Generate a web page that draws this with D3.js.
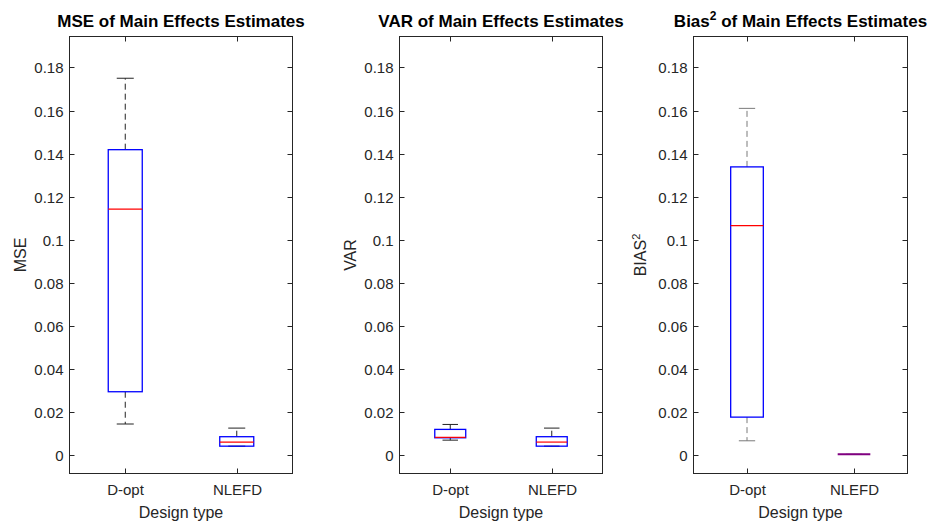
<!DOCTYPE html>
<html>
<head>
<meta charset="utf-8">
<script src="https://cdn.jsdelivr.net/npm/d3@7"></script>
<style>
  body { margin: 0; background: #fff; }
  svg { display: block; font-family: "Liberation Sans", Arial, sans-serif; }
</style>
</head>
<body>
<svg id="chart" width="931" height="525"></svg>
<script>
// design types on the x axis
var categories = ["D-opt", "NLEFD"];
var yTicks = [0, 0.02, 0.04, 0.06, 0.08, 0.1, 0.12, 0.14, 0.16, 0.18];

// box stats per design: [lower whisker, Q1, median, Q3, upper whisker]
var mseStats = [
  [0.0143, 0.0293, 0.1142, 0.1418, 0.1750],
  [0.0040, 0.0040, 0.0059, 0.0084, 0.0124]
];
var varStats = [
  [0.0068, 0.0079, 0.0081, 0.0118, 0.0141],
  [0.0040, 0.0040, 0.0059, 0.0084, 0.0124]
];
var biasStats = [
  [0.0065, 0.0175, 0.1065, 0.1338, 0.1610],
  [0.0002, 0.0002, 0.0002, 0.0002, 0.0002]
];

var panels = [
  {title: "MSE of Main Effects Estimates", ylab: "MSE", sup: false, stats: mseStats,
   left: 69.5, right: 292.5, labX: 20, whisker: "#222"},
  {title: "VAR of Main Effects Estimates", ylab: "VAR", sup: false, stats: varStats,
   left: 399.5, right: 602.5, labX: 350, whisker: "#222"},
  {title: "Bias", ylab: "BIAS", sup: true, stats: biasStats,
   left: 693.5, right: 907.5, labX: 640, whisker: "#7a7a7a"}
];

var plotTop = 36.5, plotBottom = 473.5;
var svg = d3.select("#chart");

var y = d3.scaleLinear()
    .domain([-0.0087, 0.1944])
    .range([plotBottom, plotTop]);

panels.forEach(function(p) {
  var g = svg.append("g");

  var x = d3.scaleLinear()
      .domain([0.5, 2.5])
      .range([p.left, p.right]);
  var step = x(2) - x(1);
  var boxW = step * 0.305;

  // axes box
  g.append("rect")
      .attr("x", p.left).attr("y", plotTop)
      .attr("width", p.right - p.left).attr("height", plotBottom - plotTop)
      .attr("fill", "none").attr("stroke", "#262626").attr("stroke-width", 1);

  // y ticks both sides, inward
  var fmt = d3.format("~g");
  yTicks.forEach(function(t) {
    var yy = Math.round(y(t)) + 0.5;
    g.append("line").attr("x1", p.left).attr("x2", p.left + 5)
        .attr("y1", yy).attr("y2", yy).attr("stroke", "#262626");
    g.append("line").attr("x1", p.right).attr("x2", p.right - 5)
        .attr("y1", yy).attr("y2", yy).attr("stroke", "#262626");
    g.append("text")
        .attr("x", p.left - 6).attr("y", yy)
        .attr("dy", "0.35em")
        .attr("text-anchor", "end")
        .attr("font-size", 15)
        .attr("fill", "#262626")
        .text(fmt(+t.toFixed(2)));
  });

  // x ticks top and bottom
  categories.forEach(function(c, i) {
    var xx = Math.round(x(i + 1)) + 0.5;
    g.append("line").attr("x1", xx).attr("x2", xx)
        .attr("y1", plotBottom).attr("y2", plotBottom - 5).attr("stroke", "#262626");
    g.append("line").attr("x1", xx).attr("x2", xx)
        .attr("y1", plotTop).attr("y2", plotTop + 5).attr("stroke", "#262626");
    g.append("text")
        .attr("x", xx).attr("y", 495)
        .attr("text-anchor", "middle")
        .attr("font-size", 15)
        .attr("fill", "#262626")
        .text(c);
  });

  // boxes
  p.stats.forEach(function(s, i) {
    var cx = x(i + 1);
    var lo = s[0], q1 = s[1], med = s[2], q3 = s[3], hi = s[4];

    // whiskers
    g.append("line").attr("x1", cx).attr("x2", cx)
        .attr("y1", y(q3)).attr("y2", y(hi))
        .attr("stroke", p.whisker).attr("stroke-dasharray", "6,4");
    g.append("line").attr("x1", cx).attr("x2", cx)
        .attr("y1", y(q1)).attr("y2", y(lo))
        .attr("stroke", p.whisker).attr("stroke-dasharray", "6,4");
    // caps
    g.append("line").attr("x1", cx - boxW / 4).attr("x2", cx + boxW / 4)
        .attr("y1", y(hi)).attr("y2", y(hi)).attr("stroke", p.whisker);
    g.append("line").attr("x1", cx - boxW / 4).attr("x2", cx + boxW / 4)
        .attr("y1", y(lo)).attr("y2", y(lo)).attr("stroke", p.whisker);

    // box
    g.append("rect")
        .attr("x", cx - boxW / 2).attr("y", y(q3))
        .attr("width", boxW).attr("height", Math.max(0, y(q1) - y(q3)))
        .attr("fill", "none").attr("stroke", "#0000ff").attr("stroke-width", 1.3);

    // median
    var flat = (q3 - q1) < 0.001 && hi - lo < 0.001;
    g.append("line")
        .attr("x1", cx - boxW / 2).attr("x2", cx + boxW / 2)
        .attr("y1", y(med)).attr("y2", y(med))
        .attr("stroke", flat ? "#800080" : "#ff0000")
        .attr("stroke-width", flat ? 2 : 1.2);
  });

  // title
  var title = g.append("text")
      .attr("x", (p.left + p.right) / 2).attr("y", 27)
      .attr("text-anchor", "middle")
      .attr("font-size", 17)
      .attr("font-weight", "bold")
      .attr("fill", "#000");
  if (p.sup) {
    title.append("tspan").text(p.title);
    title.append("tspan").attr("dy", -7).attr("font-size", 12).text("2");
    title.append("tspan").attr("dy", 7).text(" of Main Effects Estimates");
  } else {
    title.text(p.title);
  }

  // y label
  var yl = g.append("text")
      .attr("transform", "translate(" + (p.labX + 6) + "," + ((plotTop + plotBottom) / 2) + ") rotate(-90)")
      .attr("text-anchor", "middle")
      .attr("font-size", 16)
      .attr("fill", "#262626");
  yl.append("tspan").text(p.ylab);
  if (p.sup) {
    yl.append("tspan").attr("dy", -6).attr("font-size", 11).text("2");
  }

  // x label
  g.append("text")
      .attr("x", (p.left + p.right) / 2).attr("y", 518)
      .attr("text-anchor", "middle")
      .attr("font-size", 16)
      .attr("fill", "#262626")
      .text("Design type");
});
</script>
</body>
</html>
